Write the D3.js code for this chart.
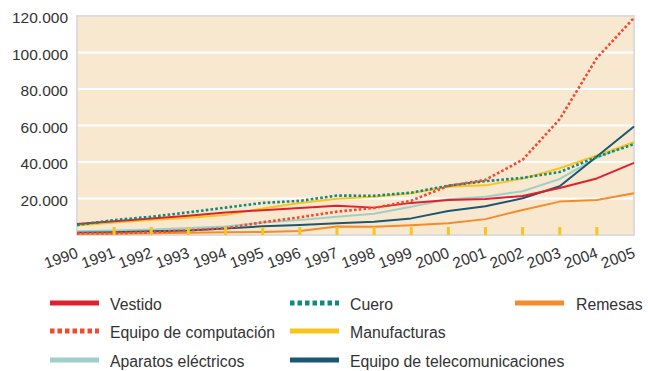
<!DOCTYPE html>
<html>
<head>
<meta charset="utf-8">
<script src="https://cdn.jsdelivr.net/npm/d3@7/dist/d3.min.js"></script>
<style>
  html, body { margin: 0; padding: 0; background: #fff; }
  svg { display: block; font-family: "Liberation Sans", Arial, Helvetica, sans-serif; }
</style>
</head>
<body>
<svg id="chart" width="648" height="371"></svg>
<script>
// Years on the horizontal axis
const years = d3.range(1990, 2006);

// Series values (one per year, 1990–2005)
const vestido      = [6000, 7500, 9000, 10500, 12300, 13600, 14800, 16000, 15000, 17600, 19200, 19700, 21400, 25800, 31000, 39500];
const cuero        = [5500, 8200, 10000, 12400, 15000, 17600, 18700, 21600, 21500, 23200, 27000, 29500, 31300, 34500, 42800, 49800];
const remesas      = [500, 700, 900, 1200, 1500, 1700, 2200, 4600, 4500, 5300, 6500, 8700, 13700, 18300, 19200, 22900];
const computacion  = [900, 1000, 1500, 2600, 3700, 7000, 9700, 12800, 14800, 18800, 26900, 30200, 41200, 63500, 97000, 119000];
const manufacturas = [5200, 6800, 8200, 9500, 11000, 14500, 17500, 19800, 21000, 22900, 26500, 27200, 30900, 36600, 43600, 50800];
const aparatos     = [2000, 2500, 3000, 3800, 4600, 6800, 8200, 10000, 11600, 15500, 19600, 21000, 24000, 30700, 42300, 50800];
const telecom      = [1200, 1500, 2000, 2500, 3500, 4800, 5500, 6400, 7200, 9100, 13200, 15700, 20100, 26700, 43000, 59500];

// Y axis tick values and their labels
const yTicks = [20000, 40000, 60000, 80000, 100000, 120000];
const yTickLabels = ["20.000", "40.000", "60.000", "80.000", "100.000", "120.000"];

// Series definitions (drawing order, bottom first)
const series = [
  { name: "Aparatos eléctricos", values: aparatos, color: "#9fd0c8", dotted: false },
  { name: "Manufacturas", values: manufacturas, color: "#f8c51f", dotted: false },
  { name: "Equipo de telecomunicaciones", values: telecom, color: "#1b5672", dotted: false },
  { name: "Remesas", values: remesas, color: "#f58b2b", dotted: false },
  { name: "Vestido", values: vestido, color: "#e0202f", dotted: false },
  { name: "Cuero", values: cuero, color: "#0f8a80", dotted: true },
  { name: "Equipo de computación", values: computacion, color: "#f04a30", dotted: true }
];

// Legend layout: [series name, column, row]
const legendOrder = [
  ["Vestido", 0, 0], ["Cuero", 1, 0], ["Remesas", 2, 0],
  ["Equipo de computación", 0, 1], ["Manufacturas", 1, 1],
  ["Aparatos eléctricos", 0, 2], ["Equipo de telecomunicaciones", 1, 2]
];

const svg = d3.select("#chart");
const plotLeft = 77, plotRight = 634, plotTop = 16, plotBottom = 235;

const x = d3.scaleLinear().domain([1990, 2005]).range([plotLeft, plotRight]);
const y = d3.scaleLinear().domain([0, 120000]).range([plotBottom, plotTop]);

// Plot background
svg.append("rect")
  .attr("x", plotLeft).attr("y", plotTop)
  .attr("width", plotRight - plotLeft).attr("height", plotBottom - plotTop)
  .attr("fill", "#f9e8d0")
  .attr("stroke", "#dcdcdc").attr("stroke-width", 2);

// White gridlines
svg.append("g")
  .selectAll("line")
  .data(yTicks.filter(v => v < 120000))
  .join("line")
  .attr("x1", plotLeft + 1).attr("x2", plotRight - 1)
  .attr("y1", d => y(d)).attr("y2", d => y(d))
  .attr("stroke", "#ffffff").attr("stroke-width", 2.2);

// Y axis labels
const yAxis = d3.axisLeft(y)
  .tickValues(yTicks)
  .tickFormat((d, i) => yTickLabels[i])
  .tickSize(0)
  .tickPadding(9);
const gy = svg.append("g").attr("transform", `translate(${plotLeft},0)`).call(yAxis);
gy.select(".domain").remove();
gy.selectAll("text")
  .attr("fill", "#333")
  .style("font-size", "15.5px")
  .style("font-family", "'Liberation Sans', Arial, sans-serif")
  .attr("dy", "0.42em");

// Lines
const line = d3.line()
  .x((d, i) => x(years[i]))
  .y(d => y(d));

svg.append("g")
  .selectAll("path")
  .data(series)
  .join("path")
  .attr("d", d => line(d.values))
  .attr("fill", "none")
  .attr("stroke", d => d.color)
  .attr("stroke-width", d => d.dotted ? 2.6 : 2)
  .attr("stroke-dasharray", d => d.dotted ? "2.6,2.2" : null)
  .attr("stroke-linejoin", "round");

// Yellow year ticks along the bottom
svg.append("g")
  .selectAll("rect")
  .data(years.slice(1, -1))
  .join("rect")
  .attr("x", d => x(d) - 1.5)
  .attr("y", plotBottom - 8)
  .attr("width", 3)
  .attr("height", 8)
  .attr("fill", "#f8c51f");

// X axis labels, slanted
svg.append("g")
  .selectAll("text")
  .data(years)
  .join("text")
  .attr("transform", d => `translate(${x(d) + 2},257) rotate(-20)`)
  .attr("text-anchor", "end")
  .attr("fill", "#333")
  .style("font-size", "15.5px")
  .text(d => d);

// Legend
const colSwatch = [50, 290, 515];
const colText = [110, 350, 576];
const rowY = [304, 332, 361];
const lg = svg.append("g");
legendOrder.forEach(([name, c, r]) => {
  const s = series.find(d => d.name === name);
  lg.append("line")
    .attr("x1", colSwatch[c]).attr("x2", colSwatch[c] + 49)
    .attr("y1", rowY[r] - 1).attr("y2", rowY[r] - 1)
    .attr("stroke", s.color)
    .attr("stroke-width", 5)
    .attr("stroke-dasharray", s.dotted ? "4.5,3" : null);
  lg.append("text")
    .attr("x", colText[c]).attr("y", rowY[r])
    .attr("dy", "0.35em")
    .attr("fill", "#333")
    .style("font-size", "15.8px")
    .text(name);
});
</script>
</body>
</html>
